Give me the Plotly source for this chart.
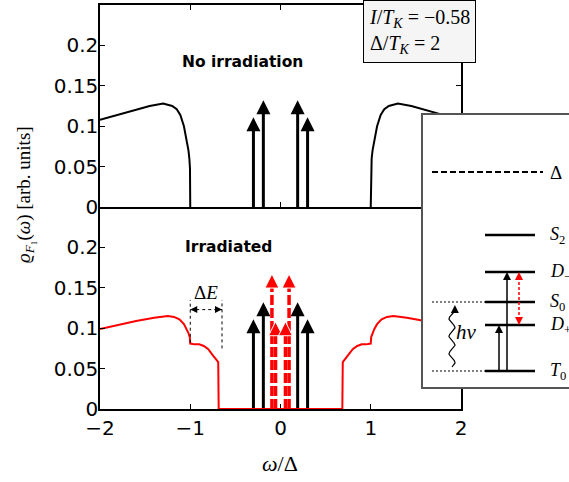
import numpy as np
import plotly.graph_objects as go

# ---------------- data ----------------
# Top panel (no irradiation): continuum spectral function (black), left and right of the gap
top_x = [-2.0, -1.8, -1.6, -1.45, -1.3, -1.2, -1.15, -1.11, -1.07, -1.04, -1.02, -1.01, -1.003, -1.0,
         1.0, 1.003, 1.01, 1.02, 1.04, 1.07, 1.11, 1.15, 1.2, 1.3, 1.45, 1.6, 1.8, 2.0]
top_y = [0.108, 0.114, 0.120, 0.125, 0.128, 0.125, 0.121, 0.114, 0.100, 0.084, 0.070, 0.060, 0.048, 0.0,
         0.0, 0.048, 0.060, 0.070, 0.084, 0.100, 0.114, 0.121, 0.125, 0.128, 0.125, 0.120, 0.114, 0.108]

# Bottom panel (irradiated): continuum spectral function (red)
bot_x = [-2.0, -1.8, -1.6, -1.4, -1.25, -1.18, -1.12, -1.07, -1.04, -1.02, -1.005, -1.0,
         -0.95, -0.9, -0.85, -0.8, -0.76, -0.72, -0.69, -0.685,
         0.685, 0.69, 0.72, 0.76, 0.8, 0.85, 0.9, 0.95,
         1.0, 1.005, 1.02, 1.04, 1.07, 1.12, 1.18, 1.25, 1.4, 1.6, 1.8, 2.0]
bot_y = [0.099, 0.104, 0.109, 0.113, 0.115, 0.114, 0.111, 0.105, 0.099, 0.094, 0.089, 0.081,
         0.080, 0.080, 0.078, 0.074, 0.068, 0.062, 0.058, 0.0,
         0.0, 0.058, 0.062, 0.068, 0.074, 0.078, 0.080, 0.080,
         0.081, 0.089, 0.094, 0.099, 0.105, 0.111, 0.114, 0.115, 0.113, 0.109, 0.104, 0.099]

# Delta peaks (arrows)
black_x = [-0.30, -0.19, 0.19, 0.30]
black_h = [0.111, 0.132, 0.132, 0.111]
red_x = [-0.095, -0.055, 0.055, 0.095]
red_h = [0.167, 0.108, 0.108, 0.167]

# Delta E marker
dE_left, dE_right = -1.0, -0.648
dE_level = 0.123

# Axis ticks
x_ticks = [-2, -1, 0, 1, 2]
x_ticktext = ["\u22122", "\u22121", "0", "1", "2"]
y_ticks = [0, 0.05, 0.1, 0.15, 0.2]
y_ticktext = ["0", "0.05", "0.1", "0.15", "0.2"]

# Inset level scheme (energies, arbitrary units)
level_names = ["<i>T</i><sub>0</sub>", "<i>D</i><sub>+</sub>", "<i>S</i><sub>0</sub>",
               "<i>D</i><sub>\u2212</sub>", "<i>S</i><sub>2</sub>"]
level_E = [0.0, 0.46, 0.69, 0.99, 1.36]
gap_E = 1.99

# ---------------- figure ----------------
W, H = 569, 482
ML, MR, MT, MB = 100, 0, 5, 73
PW = W - ML - MR
PH = H - MT - MB
main_dom = [0, 361 / PW]

fig = go.Figure()

SANS = "DejaVu Sans"
SERIF = "Liberation Serif"

# continuum curves (branches drawn separately, the gap lies on the axis)
zi = [i for i, y in enumerate(top_y) if y == 0]
fig.add_trace(go.Scatter(x=top_x[:zi[0] + 1], y=top_y[:zi[0] + 1], mode="lines",
                         line=dict(color="black", width=2), xaxis="x", yaxis="y", hoverinfo="skip"))
fig.add_trace(go.Scatter(x=top_x[zi[-1]:], y=top_y[zi[-1]:], mode="lines",
                         line=dict(color="black", width=2), xaxis="x", yaxis="y", hoverinfo="skip"))
fig.add_trace(go.Scatter(x=bot_x, y=bot_y, mode="lines", line=dict(color="red", width=2),
                         xaxis="x2", yaxis="y2", hoverinfo="skip"))

HEAD = 14


def add_arrows(xs, hs, color, xa, ya, dash=None, outline=None):
    for x, h in zip(xs, hs):
        fig.add_trace(go.Scatter(x=[x, x], y=[0, h - 0.01], mode="lines",
                                 line=dict(color=color, width=3.5 if dash else 3, dash=dash),
                                 xaxis=xa, yaxis=ya, hoverinfo="skip", cliponaxis=False))
    fig.add_trace(go.Scatter(x=xs, y=hs, mode="markers",
                             marker=dict(symbol="arrow-up", size=HEAD, color=color,
                                         line=dict(color=outline or color, width=1 if outline else 0)),
                             xaxis=xa, yaxis=ya, hoverinfo="skip", cliponaxis=False))


add_arrows(black_x, black_h, "black", "x", "y")
add_arrows(black_x, black_h, "black", "x2", "y2")
add_arrows(red_x, red_h, "red", "x2", "y2", dash="10px,3px", outline="white")

# Delta E construction
fig.add_trace(go.Scatter(x=[dE_left, dE_left], y=[0.082, 0.135], mode="lines",
                         line=dict(color="black", width=1, dash="dot"), xaxis="x2", yaxis="y2",
                         hoverinfo="skip"))
fig.add_trace(go.Scatter(x=[dE_right, dE_right], y=[0.075, 0.135], mode="lines",
                         line=dict(color="black", width=1, dash="dot"), xaxis="x2", yaxis="y2",
                         hoverinfo="skip"))
fig.add_trace(go.Scatter(x=[dE_left, dE_right], y=[dE_level, dE_level], mode="lines",
                         line=dict(color="black", width=1, dash="dot"), xaxis="x2", yaxis="y2",
                         hoverinfo="skip"))
fig.add_trace(go.Scatter(x=[dE_left, dE_right], y=[dE_level, dE_level], mode="markers",
                         marker=dict(symbol=["arrow-left", "arrow-right"], size=7, color="black"),
                         xaxis="x2", yaxis="y2", hoverinfo="skip"))

# zero segment of red curve drawn above the axis line
zero_xs = [x for x, y in zip(bot_x, bot_y) if y == 0]
fig.add_shape(type="line", xref="x2", yref="y2", x0=min(zero_xs), x1=max(zero_xs), y0=0, y1=0,
              line=dict(color="red", width=2), layer="above")

# ---------------- inset ----------------
lvl_x0, lvl_x1 = 6.2, 11.2
for E in level_E:
    fig.add_trace(go.Scatter(x=[lvl_x0, lvl_x1], y=[E, E], mode="lines",
                             line=dict(color="black", width=2.5), xaxis="x3", yaxis="y3",
                             hoverinfo="skip"))
fig.add_trace(go.Scatter(x=[0.9, 12.0], y=[gap_E, gap_E], mode="lines",
                         line=dict(color="black", width=2, dash="6px,3px"), xaxis="x3", yaxis="y3",
                         hoverinfo="skip"))
for E in [level_E[0], level_E[2]]:
    fig.add_trace(go.Scatter(x=[0.9, lvl_x0], y=[E, E], mode="lines",
                             line=dict(color="black", width=1, dash="2px,2px"), xaxis="x3", yaxis="y3",
                             hoverinfo="skip"))
# vertical transitions
for xv, Etop in [(7.6, level_E[1]), (8.4, level_E[3])]:
    fig.add_trace(go.Scatter(x=[xv, xv], y=[level_E[0], Etop - 0.05], mode="lines",
                             line=dict(color="black", width=1.5), xaxis="x3", yaxis="y3",
                             hoverinfo="skip"))
    fig.add_trace(go.Scatter(x=[xv], y=[Etop], mode="markers",
                             marker=dict(symbol="arrow-up", size=8, color="black"),
                             xaxis="x3", yaxis="y3", hoverinfo="skip"))
# red dashed double arrow between D+ and D-
fig.add_trace(go.Scatter(x=[9.6, 9.6], y=[level_E[1] + 0.05, level_E[3] - 0.05], mode="lines",
                         line=dict(color="red", width=1.5, dash="3px,2px"), xaxis="x3", yaxis="y3",
                         hoverinfo="skip"))
fig.add_trace(go.Scatter(x=[9.6, 9.6], y=[level_E[3], level_E[1]], mode="markers",
                         marker=dict(symbol=["arrow-up", "arrow-down"], size=8, color="red"),
                         xaxis="x3", yaxis="y3", hoverinfo="skip"))
# wavy photon arrow (decorative glyph)
t = np.linspace(0, 1, 120)
wy = 0.04 + t * (0.60 - 0.04)
wx = 2.9 + 0.3 * np.sin(t * 2 * np.pi * 3.2)
fig.add_trace(go.Scatter(x=wx, y=wy, mode="lines", line=dict(color="black", width=1.2),
                         xaxis="x3", yaxis="y3", hoverinfo="skip"))
fig.add_trace(go.Scatter(x=[wx[-1]], y=[0.66], mode="markers",
                         marker=dict(symbol="arrow-up", size=8, color="black"),
                         xaxis="x3", yaxis="y3", hoverinfo="skip"))

annotations = []
for name, E in zip(level_names, level_E):
    annotations.append(dict(text=name, x=12.5, y=E, xref="x3", yref="y3", xanchor="left",
                            yanchor="middle", showarrow=False,
                            font=dict(family=SERIF, size=18, color="black")))
annotations.append(dict(text="\u0394", x=12.5, y=gap_E, xref="x3", yref="y3", xanchor="left",
                        yanchor="middle", showarrow=False, font=dict(family=SERIF, size=19, color="black")))
annotations.append(dict(text="<i>h\u03bd</i>", x=4.3, y=0.39, xref="x3", yref="y3",
                        showarrow=False, font=dict(family=SERIF, size=21, color="black")))

# panel texts
annotations.append(dict(text="<b>No irradiation</b>", x=-0.42, y=0.18, xref="x", yref="y",
                        showarrow=False, font=dict(family=SANS, size=15.5, color="black")))
annotations.append(dict(text="<b>Irradiated</b>", x=-0.58, y=0.2, xref="x2", yref="y2",
                        showarrow=False, font=dict(family=SANS, size=15.5, color="black")))
annotations.append(dict(text="\u0394<i>E</i>", x=-0.83, y=0.144, xref="x2", yref="y2",
                        showarrow=False, font=dict(family=SERIF, size=19, color="black")))

# parameter box
annotations.append(dict(text="<i>I</i>/<i>T<sub>K</sub></i> = \u22120.58<br>\u0394/<i>T<sub>K</sub></i> = 2",
                        x=(363 - ML) / PW, y=(H - MB - 0) / PH, xref="paper", yref="paper",
                        xanchor="left", yanchor="top", align="left", showarrow=False,
                        bgcolor="#f5f5f5", bordercolor="black", borderwidth=1, borderpad=5,
                        font=dict(family=SERIF, size=20, color="black")))

# axis titles
annotations.append(dict(text="<i>\u03c9</i>/\u0394", x=(280 - ML) / PW, y=(H - MB - 463) / PH,
                        xref="paper", yref="paper", xanchor="center", yanchor="middle",
                        showarrow=False, font=dict(family=SERIF, size=22, color="black")))
annotations.append(dict(text="<i>\u03f1</i><sub><i>F</i>\u2081</sub>(<i>\u03c9</i>) [arb. units]",
                        x=(25 - ML) / PW, y=(H - MB - 195) / PH, xref="paper", yref="paper",
                        xanchor="center", yanchor="middle", showarrow=False, textangle=-90,
                        font=dict(family=SERIF, size=19, color="black")))

ax_common = dict(showgrid=False, zeroline=False, showline=True, linecolor="black", linewidth=1.5,
                 ticks="inside", ticklen=5, tickwidth=1.3, tickcolor="black", mirror="ticks",
                 tickfont=dict(family=SANS, size=20, color="black"))
ax_bottom = dict(ax_common, mirror=False)

fig.update_layout(
    width=W, height=H,
    margin=dict(l=ML, r=MR, t=MT, b=MB),
    paper_bgcolor="white", plot_bgcolor="white",
    showlegend=False,
    template="none",
    xaxis=dict(domain=main_dom, anchor="y", range=[-2, 2], tickvals=x_ticks, showticklabels=False,
               **ax_common),
    yaxis=dict(domain=[0.5, 1], anchor="x", range=[0, 0.25], tickvals=y_ticks, ticktext=y_ticktext,
               ticklabelstandoff=-4, **ax_common),
    xaxis2=dict(domain=main_dom, anchor="y2", range=[-2, 2], tickvals=x_ticks, ticktext=x_ticktext,
                **ax_bottom),
    yaxis2=dict(domain=[0, 0.5], anchor="x2", range=[0, 0.25], tickvals=y_ticks, ticktext=y_ticktext,
                ticklabelstandoff=-4, **ax_common),
    xaxis3=dict(domain=[(423 - ML) / PW, 1], anchor="y3", range=[0, 14.6], showgrid=False,
                zeroline=False, showline=True, linecolor="#555555", linewidth=1.5, mirror=True,
                showticklabels=False, ticks=""),
    yaxis3=dict(domain=[(H - MB - 387) / PH, (H - MB - 115) / PH], anchor="x3", range=[-0.16, 2.56],
                showgrid=False, zeroline=False, showline=True, linecolor="#555555", linewidth=1.5,
                mirror=False, showticklabels=False, ticks=""),
    annotations=annotations,
)

fig.write_html("out.html", config={"displayModeBar": False},
               post_script="document.body.style.margin='0';")
